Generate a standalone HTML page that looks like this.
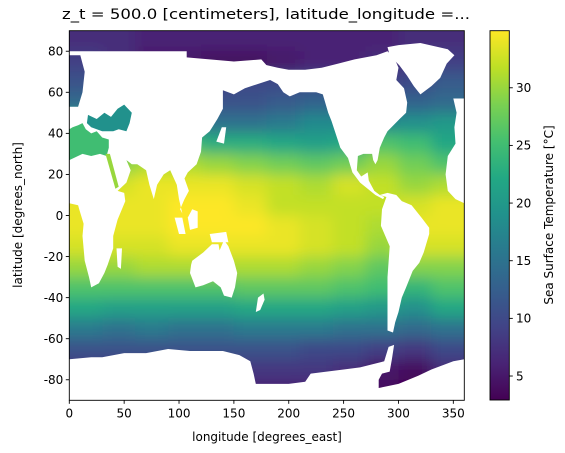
<!DOCTYPE html>
<html><head><meta charset="utf-8"><style>
html,body{margin:0;padding:0;background:#fff;}
svg{display:block;font-family:"DejaVu Sans","Liberation Sans",sans-serif;}
</style></head><body>
<svg id="fig" width="565" height="453" viewBox="0 0 565 453" xmlns="http://www.w3.org/2000/svg">
<defs>
<clipPath id="plotclip"><rect x="69.3" y="30.7" width="395" height="369.6"/></clipPath>
<filter id="blur" x="0" y="0" width="1" height="1" filterUnits="objectBoundingBox"><feGaussianBlur stdDeviation="7" edgeMode="duplicate"/></filter>
<linearGradient id="cbgrad" x1="0" y1="1" x2="0" y2="0">
<stop offset="0" stop-color="#440154"/><stop offset="0.1" stop-color="#482475"/><stop offset="0.2" stop-color="#414487"/><stop offset="0.3" stop-color="#355f8d"/><stop offset="0.4" stop-color="#2a788e"/><stop offset="0.5" stop-color="#21918c"/><stop offset="0.6" stop-color="#22a884"/><stop offset="0.7" stop-color="#44bf70"/><stop offset="0.8" stop-color="#7ad151"/><stop offset="0.9" stop-color="#bddf26"/><stop offset="1" stop-color="#fde725"/>
</linearGradient>
</defs>
<text x="266" y="19" font-size="14" text-anchor="middle" textLength="408" lengthAdjust="spacingAndGlyphs" fill="#000">z_t = 500.0 [centimeters], latitude_longitude =...</text>
<g id="plot" clip-path="url(#plotclip)">
<g id="cells" filter="url(#blur)"></g>
<g id="land"></g>
</g>
<rect x="69.3" y="30.7" width="395" height="369.6" fill="none" stroke="#000" stroke-width="0.9"/>
<g id="xaxis"></g>
<g id="yaxis"></g>
<text x="267" y="441" font-size="12" text-anchor="middle">longitude [degrees_east]</text>
<text transform="translate(22,215) rotate(-90)" font-size="12" text-anchor="middle">latitude [degrees_north]</text>
<rect x="490" y="30.7" width="19.3" height="369.3" fill="url(#cbgrad)" stroke="#000" stroke-width="0.9"/>
<g id="cbaxis"></g>
<text transform="translate(553,215) rotate(-90)" font-size="12" text-anchor="middle">Sea Surface Temperature [°C]</text>
</svg>
<script>
// ---- data ----
const lonCenters = [15,45,75,105,135,165,195,225,255,285,315,345];
const latCenters = [85,75,65,55,45,35,25,15,5,-5,-15,-25,-35,-45,-55,-65,-75,-85];
const sstRow85  = [7,7,6,6,6,6,6,6,6,6,7,7];
const sstRow75  = [9,7,5,5,4,4,5,6,6,7,8,9];
const sstRow65  = [11,10,9,9,9,10,10,10,9,9,10,12];
const sstRow55  = [14,13,12,12,11,11,12,13,12,12,13,14];
const sstRow45  = [22,19,18,16,15,15,16,18,18,18,19,20];
const sstRow35  = [25,24,25,25,23,23,22,21,22,26,25,22];
const sstRow25  = [28,29,31,31,30,29,28,27,28,30,28,26];
const sstRow15  = [33,33,34,34,34,33,32,31,33,32,30,31];
const sstRow5   = [34,34,34,35,35,34,32,32,32,32,33,34];
const sstRowM5  = [34,34,34,35,35,35,34,33,32,31,34,34];
const sstRowM15 = [33,33,33,34,34,34,34,33,32,30,33,33];
const sstRowM25 = [30,30,31,31,31,31,31,30,29,27,29,29];
const sstRowM35 = [26,26,26,26,26,27,27,27,26,25,24,26];
const sstRowM45 = [22,21,21,21,21,22,22,22,21,20,19,22];
const sstRowM55 = [16,15,16,15,15,16,16,16,15,15,14,15];
const sstRowM65 = [11,11,11,11,11,11,11,10,10,9,8,10];
const sstRowM75 = [8,8,8,8,8,8,8,8,7,5,4,7];
const sstRowM85 = [6,6,6,6,6,6,6,6,5,4,3,5];
const sstRows = [sstRow85,sstRow75,sstRow65,sstRow55,sstRow45,sstRow35,sstRow25,sstRow15,sstRow5,sstRowM5,sstRowM15,sstRowM25,sstRowM35,sstRowM45,sstRowM55,sstRowM65,sstRowM75,sstRowM85];
const xTicks = [0,50,100,150,200,250,300,350];
const yTicks = [-80,-60,-40,-20,0,20,40,60,80];
const cbTicks = [5,10,15,20,25,30];
const cellLon = 30, cellLat = 10;
const vmin = 2.92, vmax = 34.95;

// land outlines (lon, lat)
const landEurasiaAfrica = [[0,80],[107,80],[107,77],[150,75],[175,76],[185,70],[183,66],[160,62],[150,59],[140,61],[140,52],[135,47],[128,41],[121,38],[120,31],[116,25],[108,21],[105,18],[109,12],[105,8],[101,3],[103,1],[100,8],[98,15],[92,22],[86,20],[80,15],[77,8],[73,15],[70,22],[62,25],[57,25],[52,27],[56,22],[52,16],[44,12],[50,11],[51,7],[44,-2],[40,-10],[40,-16],[35,-24],[32,-28],[27,-33],[20,-35],[18,-30],[14,-22],[12,-10],[13,-4],[9,3],[8,5],[0,6],[0,53],[8,53],[12,60],[14,70],[10,78],[0,78]];
const seaMed = [[0,42],[0,27],[12,30],[20,29],[28,30],[34,29],[36,33],[36,37],[30,38],[25,41],[20,40],[15,42],[12,45],[8,44],[3,43]];
const seaBlack = [[16,45],[17,49],[25,47],[32,50],[38,48],[44,52],[50,54],[57,50],[55,45],[52,41],[45,42],[40,41],[30,41],[20,43]];
const seaRed = [[33,30],[37,30],[45,14],[42,13]];
const landAmericaN = [[174,74],[190,72],[200,71],[215,71],[230,72],[245,74],[260,76],[280,78],[290,80],[296,77],[300,72],[298,66],[305,62],[308,55],[307,50],[301,47],[290,41],[287,38],[283,33],[281,27],[279,25],[277,27],[276,30],[268,30],[263,29],[262,22],[266,19],[272,21],[273,17],[278,12],[283,10],[287,9],[286,8],[279,10],[265,16],[258,21],[254,28],[247,33],[239,46],[236,50],[231,59],[225,60],[210,60],[201,58],[195,60],[190,64],[183,66]];
const landGreenland = [[290,82],[300,83],[320,84],[345,81],[351,78],[344,74],[338,67],[330,63],[320,59],[314,63],[308,68],[301,73],[292,78]];
const landAmericaS = [[283,10],[290,11],[298,10],[303,7],[312,5],[321,-1],[328,-6],[328,-9],[323,-18],[319,-23],[313,-27],[307,-35],[303,-40],[300,-47],[297,-52],[295,-57],[290,-56],[290,-45],[290,-30],[292,-15],[284,-5],[285,3],[289,9]];
const landEuropeWest = [[350,57],[360,57],[360,6],[352,8],[345,12],[343,20],[345,29],[352,35],[351,43],[353,50]];
const landAustralia = [[112,-22],[122,-18],[130,-14],[136,-14],[137,-17],[141,-12],[145,-15],[150,-22],[153,-28],[151,-35],[148,-40],[141,-39],[138,-35],[131,-32],[122,-34],[115,-35],[110,-28],[111,-24]];
const landNZ = [[172,-40],[177,-38],[178,-41],[174,-46],[170,-47]];
const landNewGuinea = [[128,-9],[143,-8],[145,-13],[130,-13]];
const landBorneo = [[108,-1],[112,3],[117,2],[117,-6],[110,-7]];
const landSumatra = [[96,-1],[103,-1],[106,-9],[100,-9]];
const landMadagascar = [[43,-16],[48,-16],[47,-26],[44,-25]];
const landJapan = [[134,36],[141,35],[143,43],[139,43]];
const landAntarctica = [[0,-70],[20,-69],[30,-69],[50,-67],[70,-67],[90,-65],[110,-66],[140,-66],[155,-68],[165,-71],[168,-77],[170,-82],[200,-82],[215,-81],[220,-77],[250,-75],[265,-74],[280,-72],[287,-71],[291,-64],[296,-63],[294,-70],[292,-76],[285,-77],[282,-80],[282,-84],[300,-82],[318,-78],[330,-75],[350,-71],[360,-70],[360,-90],[0,-90]];
const landShapes = [landEurasiaAfrica,landAmericaN,landGreenland,landAmericaS,landEuropeWest,landAustralia,landNZ,landNewGuinea,landBorneo,landSumatra,landMadagascar,landJapan,landAntarctica];
const seaShapes = [seaMed,seaBlack,seaRed];
const seaVals = [25,19,30];

// ---- scales ----
const X0=69.3, X1=464.3, Y0=30.7, Y1=400.3;
function xs(lon){return X0+(lon/360)*(X1-X0);}
function ys(lat){return Y0+((90-lat)/180)*(Y1-Y0);}
const CB_TOP=30.7, CB_BOT=400;
function cbs(v){return CB_BOT-(v-vmin)/(vmax-vmin)*(CB_BOT-CB_TOP);}
const vir=["#440154","#482475","#414487","#355f8d","#2a788e","#21918c","#22a884","#44bf70","#7ad151","#bddf26","#fde725"];
function hex(c){return [parseInt(c.substr(1,2),16),parseInt(c.substr(3,2),16),parseInt(c.substr(5,2),16)];}
function cmap(v){let t=(v-vmin)/(vmax-vmin);t=Math.max(0,Math.min(1,t));const p=t*10;const i=Math.min(9,Math.floor(p));const f=p-i;const a=hex(vir[i]),b=hex(vir[i+1]);return "rgb("+a.map((c,k)=>Math.round(c+(b[k]-c)*f)).join(",")+")";}
const NS="http://www.w3.org/2000/svg";
function mk(tag,attrs,parent){const e=document.createElementNS(NS,tag);for(const k in attrs)e.setAttribute(k,attrs[k]);parent.appendChild(e);return e;}

// heatmap cells
const cells=document.getElementById('cells');
mk('rect',{x:X0-20,y:Y0-20,width:X1-X0+40,height:Y1-Y0+40,fill:cmap(20)},cells);
for(let r=0;r<latCenters.length;r++){for(let c=0;c<lonCenters.length;c++){
  const lat=latCenters[r],lon=lonCenters[c];
  let x=xs(lon-cellLon/2),y=ys(lat+cellLat/2),w=xs(lon+cellLon/2)-x,h=ys(lat-cellLat/2)-y;
  if(c===0){w+=x-(X0-20);x=X0-20;} if(c===lonCenters.length-1){w=X1+20-x;}
  if(r===0){h+=y-(Y0-20);y=Y0-20;} if(r===latCenters.length-1){h=Y1+20-y;}
  const el=mk('rect',{x:x,y:y,width:w+0.5,height:h+0.5,fill:cmap(sstRows[r][c])},cells);
  
  
}}
// land
const land=document.getElementById('land');
function pts(a){return a.map(p=>xs(p[0]).toFixed(1)+","+ys(p[1]).toFixed(1)).join(" ");}
landShapes.forEach(s=>{const el=mk('polygon',{points:pts(s),fill:"#fff"},land);
  
  });
seaShapes.forEach((s,i)=>{const el=mk('polygon',{points:pts(s),fill:cmap(seaVals[i])},land);
  
  });

// axes
const xa=document.getElementById('xaxis');
xTicks.forEach(t=>{const x=xs(t);
  mk('line',{x1:x,x2:x,y1:Y1,y2:Y1+3.5,stroke:"#000","stroke-width":0.9},xa);
  const tx=mk('text',{x:x,y:Y1+17,"font-size":12,"text-anchor":"middle"},xa);tx.textContent=t;
  
  });
const ya=document.getElementById('yaxis');
yTicks.forEach(t=>{const y=ys(t);
  mk('line',{x1:X0-3.5,x2:X0,y1:y,y2:y,stroke:"#000","stroke-width":0.9},ya);
  const tx=mk('text',{x:X0-6,y:y+4.3,"font-size":12,"text-anchor":"end"},ya);tx.textContent=t;
  
  });
const ca=document.getElementById('cbaxis');
cbTicks.forEach(t=>{const y=cbs(t);
  mk('line',{x1:509.3,x2:512.8,y1:y,y2:y,stroke:"#000","stroke-width":0.9},ca);
  const tx=mk('text',{x:516,y:y+4.3,"font-size":12},ca);tx.textContent=t;
  
  });
</script>
</body></html>
